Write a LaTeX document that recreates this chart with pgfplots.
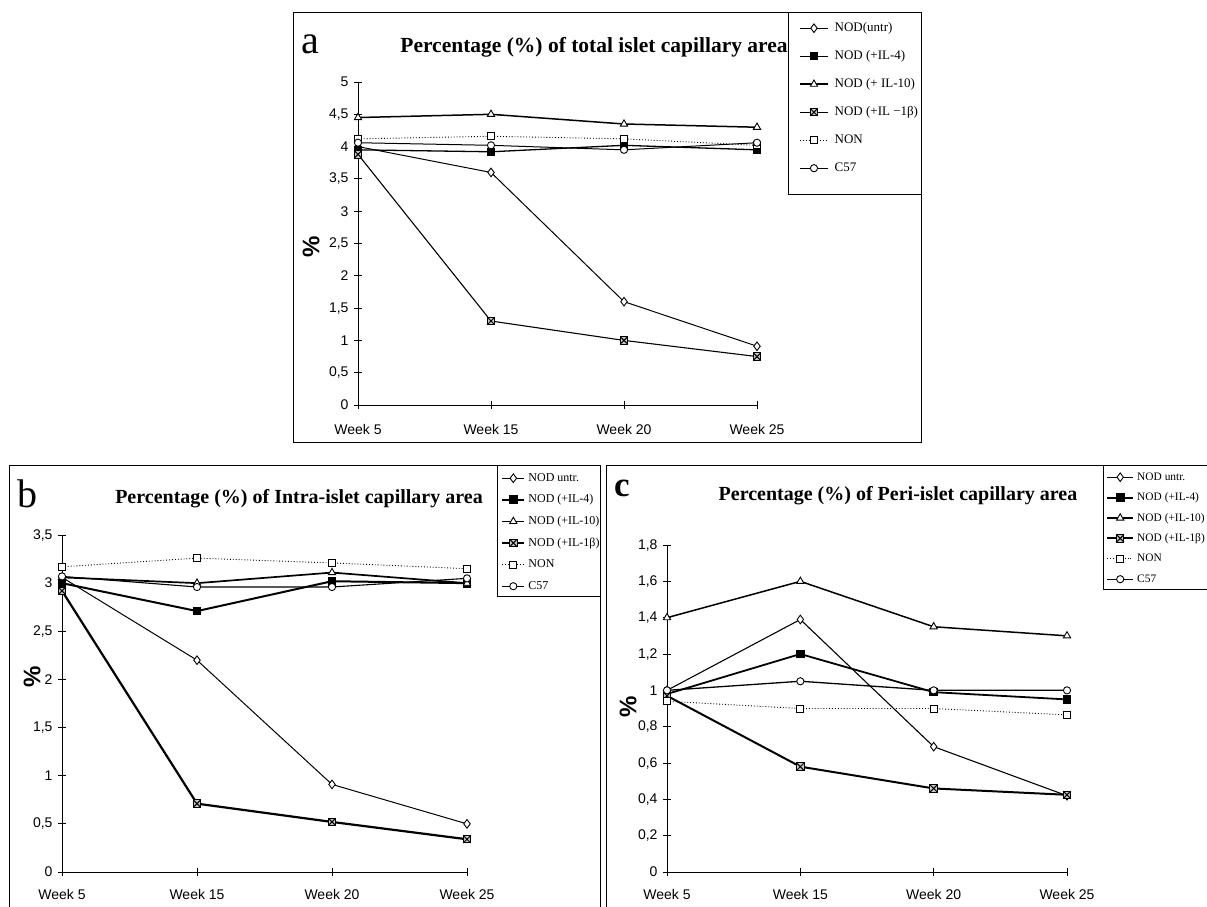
\documentclass[border=0pt]{standalone}
\usepackage{pgfplots}
\pgfplotsset{compat=1.18}
\usepackage{fontspec}
\setmainfont{Liberation Serif}
\newfontfamily\arial{Liberation Sans}

% square with a cross, for the IL-1beta series
\pgfdeclareplotmark{boxx}{%
  \pgfpathrectangle{\pgfqpoint{-\pgfplotmarksize}{-\pgfplotmarksize}}{\pgfqpoint{2\pgfplotmarksize}{2\pgfplotmarksize}}%
  \pgfusepathqfillstroke
  \pgfpathmoveto{\pgfqpoint{-\pgfplotmarksize}{-\pgfplotmarksize}}%
  \pgfpathlineto{\pgfqpoint{\pgfplotmarksize}{\pgfplotmarksize}}%
  \pgfpathmoveto{\pgfqpoint{-\pgfplotmarksize}{\pgfplotmarksize}}%
  \pgfpathlineto{\pgfqpoint{\pgfplotmarksize}{-\pgfplotmarksize}}%
  \pgfusepathqstroke}

\pgfplotsset{
  panel/.style={
    scale only axis, clip=false,
    xmin=0, xmax=3, ymin=0,
    axis lines=left,
    axis line style={-, line width=1pt},
    tick style={black, line width=1pt},
    major tick length=8pt, tick align=center,
    xtick={0,1,2,3}, xticklabels={Week 5, Week 15, Week 20, Week 25},
    tick label style={font=\arial\fontsize{14}{16}\selectfont},
    yticklabel style={xshift=-2pt},
    /pgf/number format/use comma,
    /pgf/number format/assume math mode=true,
    legend cell align=left,
  },
  untr/.style={black, mark=diamond*, mark size=4.3pt, mark options={fill=white, solid, line width=0.9pt}},
  il4/.style={black, mark=square*, mark size=3.4pt, mark options={fill=black, solid}},
  il10/.style={black, mark=triangle*, mark size=4.2pt, mark options={fill=white, solid, line width=0.9pt}},
  il1b/.style={black, mark=boxx, mark size=3.7pt, mark options={fill=gray!45, solid, line width=1pt}},
  non/.style={black, dotted, mark=square*, mark size=3.5pt, mark options={fill=white, solid, line width=0.8pt}},
  c57/.style={black, mark=*, mark size=3.6pt, mark options={fill=white, solid, line width=0.9pt}},
}

\begin{document}
\begin{tikzpicture}
\useasboundingbox (0pt,0pt) rectangle (1207pt,-906pt);

% ---------- panel a ----------
\begin{axis}[panel,
  at={(358pt,-405pt)}, anchor=south west,
  width=399pt, height=323pt, ymax=5,
  ytick={0,0.5,...,5},
  xticklabel style={yshift=-12pt},
  legend style={draw=none, fill=none, at={(1.1053,1.1858)}, anchor=north west,
    inner sep=0pt, row sep=16pt, column sep=6pt, font=\fontsize{13}{13}\selectfont,
    nodes={inner sep=0pt, text height=9pt, text depth=3pt}},
  legend image code/.code={\draw[mark repeat=2,mark phase=2] plot coordinates {(0pt,0pt)(14pt,0pt)(28pt,0pt)};},
]
\addplot[untr, line width=1pt] coordinates {(0,4.00)(1,3.60)(2,1.60)(3,0.91)};
\addplot[il4, line width=1.3pt] coordinates {(0,3.95)(1,3.92)(2,4.02)(3,3.95)};
\addplot[il10, line width=1.5pt] coordinates {(0,4.45)(1,4.50)(2,4.35)(3,4.30)};
\addplot[il1b, line width=1.1pt] coordinates {(0,3.88)(1,1.30)(2,1.00)(3,0.75)};
\addplot[non, line width=0.9pt] coordinates {(0,4.12)(1,4.16)(2,4.12)(3,4.02)};
\addplot[c57, line width=1pt] coordinates {(0,4.06)(1,4.02)(2,3.95)(3,4.06)};
\legend{NOD(untr), NOD (+IL-4), NOD (+ IL-10), NOD (+IL −1β), NON, C57}
\end{axis}

% ---------- panel b ----------
\begin{axis}[panel,
  at={(62pt,-872pt)}, anchor=south west,
  width=405pt, height=337pt, ymax=3.5,
  ytick={0,0.5,...,3.5},
  xticklabel style={yshift=-10pt},
  legend style={draw=none, fill=none, at={(1.0840,1.1869)}, anchor=north west,
    inner sep=0pt, row sep=9.6pt, column sep=3pt, font=\fontsize{12}{12}\selectfont,
    nodes={inner sep=0pt, text height=9pt, text depth=3pt}},
  legend image code/.code={\draw[mark repeat=2,mark phase=2] plot coordinates {(0pt,0pt)(11pt,0pt)(22pt,0pt)};},
]
\addplot[untr, line width=1pt] coordinates {(0,3.06)(1,2.20)(2,0.91)(3,0.50)};
\addplot[il4, line width=2pt] coordinates {(0,3.00)(1,2.71)(2,3.02)(3,3.00)};
\addplot[il10, line width=1.7pt] coordinates {(0,3.06)(1,3.00)(2,3.11)(3,3.00)};
\addplot[il1b, line width=2.2pt] coordinates {(0,2.92)(1,0.71)(2,0.52)(3,0.34)};
\addplot[non, line width=0.9pt] coordinates {(0,3.17)(1,3.26)(2,3.21)(3,3.15)};
\addplot[c57, line width=1.1pt] coordinates {(0,3.07)(1,2.96)(2,2.96)(3,3.05)};
\legend{NOD untr., NOD (+IL-4), NOD (+IL-10), NOD (+IL-1β), NON, C57}
\end{axis}

% ---------- panel c ----------
\begin{axis}[panel,
  at={(667pt,-872pt)}, anchor=south west,
  width=400pt, height=327pt, ymax=1.8,
  ytick={0,0.2,0.4,0.6,0.8,1,1.2,1.4,1.6,1.8},
  xticklabel style={yshift=-10pt},
  legend style={draw=none, fill=none, at={(1.0975,1.2263)}, anchor=north west,
    inner sep=0pt, row sep=8.4pt, column sep=3pt, font=\fontsize{11.4}{12}\selectfont,
    nodes={inner sep=0pt, text height=9pt, text depth=3pt}},
  legend image code/.code={\draw[mark repeat=2,mark phase=2] plot coordinates {(0pt,0pt)(13pt,0pt)(26pt,0pt)};},
]
\addplot[untr, line width=1.1pt] coordinates {(0,1.00)(1,1.39)(2,0.69)(3,0.42)};
\addplot[il4, line width=1.8pt] coordinates {(0,0.98)(1,1.20)(2,0.99)(3,0.95)};
\addplot[il10, line width=1.5pt] coordinates {(0,1.40)(1,1.60)(2,1.35)(3,1.30)};
\addplot[il1b, line width=2pt] coordinates {(0,0.97)(1,0.58)(2,0.46)(3,0.425)};
\addplot[non, line width=0.9pt] coordinates {(0,0.94)(1,0.90)(2,0.90)(3,0.865)};
\addplot[c57, line width=1.3pt] coordinates {(0,1.00)(1,1.05)(2,1.00)(3,1.00)};
\legend{NOD untr., NOD (+IL-4), NOD (+IL-10), NOD (+IL-1β), NON, C57}
\end{axis}

% frames and legend boxes
\draw[line width=1pt] (293pt,-12pt) rectangle (921pt,-442pt);
\draw[line width=1pt] (788pt,-12pt) rectangle (921pt,-194pt);
\draw[line width=1pt] (9pt,-912pt) -- (9pt,-465pt) -- (600pt,-465pt) -- (600pt,-912pt);
\draw[line width=1pt] (497pt,-465pt) rectangle (600pt,-596pt);
\draw[line width=1pt] (606pt,-912pt) -- (606pt,-465pt) -- (1215pt,-465pt);
\draw[line width=1pt] (1103pt,-465pt) -- (1103pt,-589pt) -- (1215pt,-589pt);

% panel letters and titles
\node[anchor=base, font=\fontsize{40}{40}\selectfont] at (310pt,-53pt) {a};
\node[anchor=base, font=\fontsize{40}{40}\selectfont] at (27pt,-507pt) {b};
\node[anchor=base, font=\bfseries\fontsize{35}{35}\selectfont] at (622pt,-496pt) {c};
\node[anchor=base, font=\bfseries\fontsize{21.5}{22}\selectfont] at (594pt,-52pt) {Percentage (\%) of total islet capillary area};
\node[anchor=base, font=\bfseries\fontsize{20}{21}\selectfont] at (299pt,-503pt) {Percentage (\%) of Intra-islet capillary area};
\node[anchor=base, font=\bfseries\fontsize{20}{21}\selectfont] at (898pt,-500pt) {Percentage (\%) of Peri-islet capillary area};

% y labels
\node[rotate=90, font=\arial\bfseries\fontsize{24}{24}\selectfont] at (311pt,-247pt) {\%};
\node[rotate=90, font=\arial\bfseries\fontsize{24}{24}\selectfont] at (32pt,-677pt) {\%};
\node[rotate=90, font=\arial\bfseries\fontsize{24}{24}\selectfont] at (628pt,-707pt) {\%};
\end{tikzpicture}
\end{document}
